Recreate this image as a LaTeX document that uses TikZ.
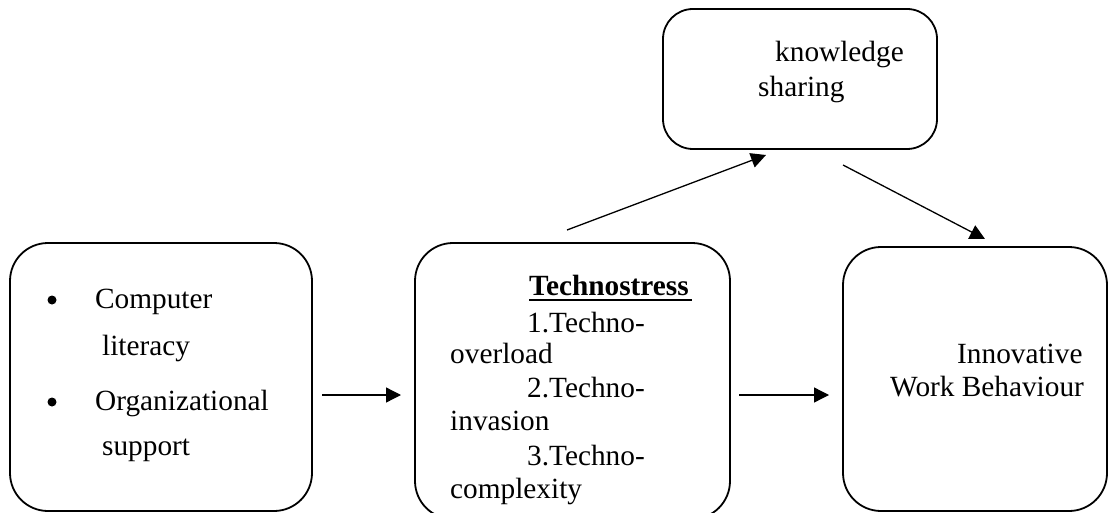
\documentclass[tikz,border=0pt]{standalone}
\usepackage{fontspec}
\setmainfont{Liberation Serif}
\usetikzlibrary{arrows.meta}
\begin{document}
\begin{tikzpicture}[x=1pt,y=-1pt,
  box/.style={draw, line width=1.8pt, rounded corners=38pt, inner sep=0pt},
  txt/.style={anchor=base west, inner sep=0pt, font=\fontsize{29.3}{34}\selectfont},
  dot/.style={circle, fill, inner sep=0pt, minimum size=9pt},
  conn/.style={line width=1.3pt, -{Triangle[length=15pt,width=15pt]}}]
\useasboundingbox (0,0) rectangle (1110,513);
% boxes
\node[box, minimum width=302pt, minimum height=268pt] (L) at (161,377) {};
\node[box, minimum width=315pt, minimum height=276pt] (M) at (572.5,381) {};
\node[box, minimum width=264pt, minimum height=264pt] (R) at (975,379) {};
\node[box, rounded corners=30pt, minimum width=274pt, minimum height=140pt] (T) at (800,79) {};
% left text
\node[dot] (b1) at (52,300) {};
\node[txt] (l1) at (95,308) {Computer};
\node[txt] (l2) at (102,355) {literacy};
\node[dot] (b2) at (52,402) {};
\node[txt] (l3) at (95,410) {Organizational};
\node[txt] (l4) at (102,455) {support};
% middle text
\node[txt] (m0) at (529,295) {\textbf{Technostress}};
\draw[line width=1.3pt] (529,300) -- (692,300);
\node[txt] (m1) at (527,332) {1.Techno-};
\node[txt] (m2) at (450,363) {overload};
\node[txt] (m3) at (527,397) {2.Techno-};
\node[txt] (m4) at (450,430) {invasion};
\node[txt] (m5) at (527,465) {3.Techno-};
\node[txt] (m6) at (450,498) {complexity};
% top text
\node[txt] (t1) at (775,62) {knowledge};
\node[txt] (t2) at (758,97) {sharing};
% right text
\node[txt] (r1) at (957,363) {Innovative};
\node[txt] (r2) at (890,396) {Work Behaviour};
% connectors
\coordinate (a1s) at (322,395);
\coordinate (a1e) at (401,395);
\coordinate (a2s) at (739,395);
\coordinate (a2e) at (829,395);
\coordinate (a3s) at (567,230);
\coordinate (a3e) at (766,155);
\coordinate (a4s) at (843,165);
\coordinate (a4e) at (985,239);
\draw[conn] (a1s) -- (a1e);
\draw[conn] (a2s) -- (a2e);
\draw[conn] (a3s) -- (a3e);
\draw[conn] (a4s) -- (a4e);
\end{tikzpicture}
\end{document}
